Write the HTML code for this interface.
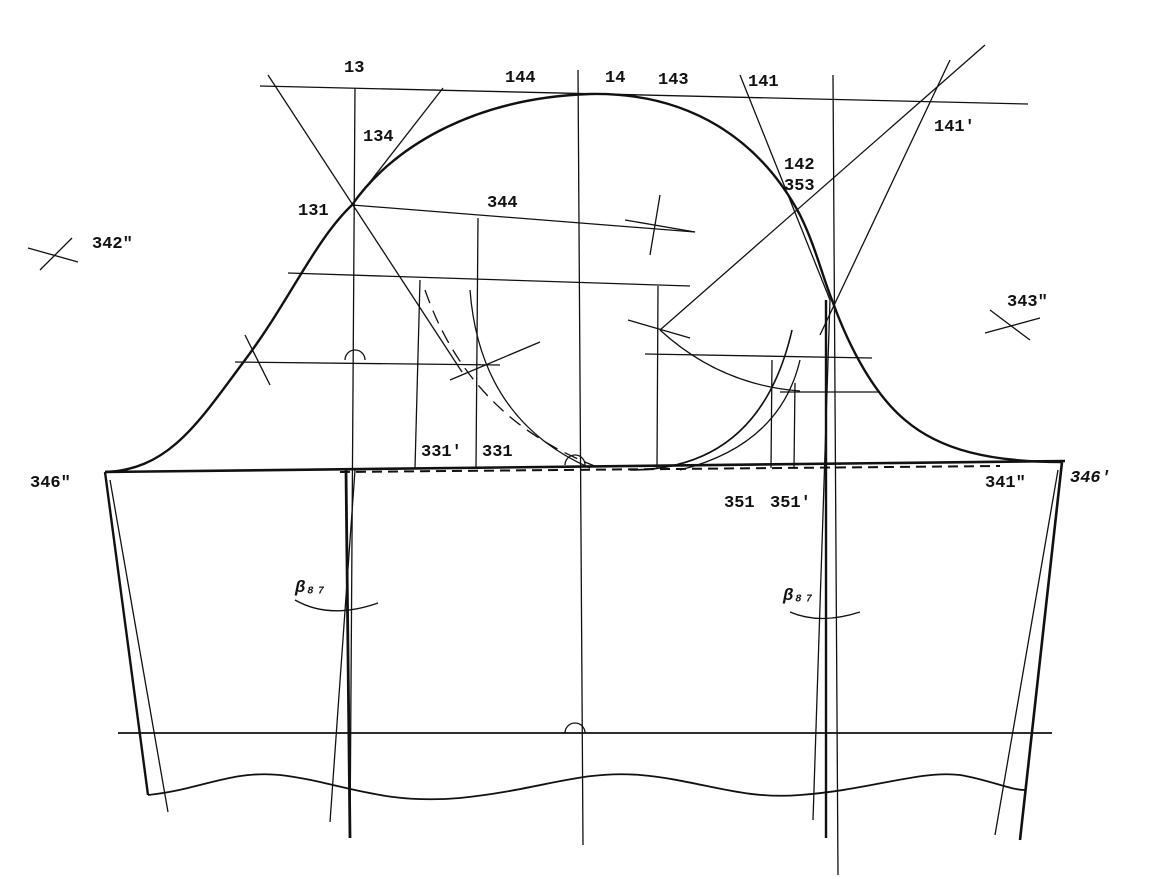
<!DOCTYPE html>
<html><head><meta charset="utf-8"><style>
html,body{margin:0;padding:0;background:#fff}
svg{display:block}
text{font-family:"Liberation Mono",monospace;font-size:17px;fill:#111;font-weight:bold}
</style></head><body>
<svg width="1152" height="879" viewBox="0 0 1152 879" xmlns="http://www.w3.org/2000/svg">
<g stroke="#111" fill="none" stroke-width="1.3">
<line x1="260" y1="86" x2="1028" y2="104"/>
<line x1="355" y1="88" x2="350" y2="838" />
<line x1="578" y1="70" x2="583" y2="845"/>
<line x1="833" y1="75" x2="838" y2="875"/>
<line x1="830" y1="300" x2="813" y2="820"/>
<line x1="355" y1="470" x2="330" y2="822"/>
<line x1="118" y1="733" x2="1052" y2="733" stroke-width="1.8"/>
<line x1="268" y1="75" x2="462" y2="372"/>
<line x1="443" y1="88" x2="352" y2="205"/>
<line x1="352" y1="205" x2="695" y2="232"/>
<line x1="288" y1="273" x2="690" y2="286"/>
<line x1="235" y1="362" x2="500" y2="365"/>
<line x1="420" y1="280" x2="415" y2="468"/>
<line x1="478" y1="218" x2="476" y2="468"/>
<line x1="658" y1="286" x2="657" y2="468"/>
<line x1="450" y1="380" x2="540" y2="342"/>
<line x1="625" y1="220" x2="695" y2="232"/>
<line x1="660" y1="195" x2="650" y2="255"/>
<line x1="740" y1="75" x2="830" y2="300"/>
<line x1="985" y1="45" x2="660" y2="330"/>
<line x1="950" y1="60" x2="820" y2="335"/>
<line x1="628" y1="320" x2="690" y2="338"/>
<line x1="645" y1="354" x2="872" y2="358"/>
<line x1="780" y1="392" x2="880" y2="392"/>
<line x1="772" y1="360" x2="771" y2="468"/>
<line x1="795" y1="383" x2="794" y2="468"/>
<path d="M660 330 Q720 385 800 391"/>
<path d="M630 470 Q760 470 792 330" stroke-width="1.6"/>
<path d="M680 470 Q780 445 800 360"/>
<path d="M470 290 Q480 420 590 468"/>
<path d="M425 290 Q470 420 600 468" stroke-dasharray="14 8"/>
<line x1="40" y1="270" x2="72" y2="238"/><line x1="28" y1="248" x2="78" y2="262"/>
<line x1="990" y1="310" x2="1030" y2="340"/><line x1="985" y1="333" x2="1040" y2="318"/>
<line x1="245" y1="335" x2="270" y2="385"/>
<line x1="105" y1="472" x2="1065" y2="461" stroke-width="2.6"/>
<line x1="340" y1="472" x2="1000" y2="466" stroke-dasharray="10 6" stroke-width="2"/>
<path d="M105 472 C170 470 200 420 245 360 C290 300 315 240 352 205 C390 150 470 98 590 94 C690 92 760 140 800 215 C815 245 822 275 832 300 C850 350 875 395 905 420 C940 450 990 462 1062 462" stroke-width="2.4"/>
<line x1="105" y1="472" x2="148" y2="795" stroke-width="2.4"/>
<line x1="110" y1="480" x2="168" y2="812"/>
<line x1="1062" y1="462" x2="1020" y2="840" stroke-width="2.6"/>
<line x1="1058" y1="470" x2="995" y2="835"/>
<line x1="346" y1="470" x2="350" y2="838" stroke-width="2.8"/>
<line x1="826" y1="300" x2="826" y2="838" stroke-width="2.4"/>
<path d="M148 795 C200 790 230 770 280 775 C340 782 380 805 460 798 C540 790 580 770 640 775 C700 780 740 800 800 795 C870 790 920 770 960 775 C990 780 1010 790 1025 790" stroke-width="1.8"/>
<path d="M295 600 Q330 620 378 603"/>
<path d="M790 612 Q820 625 860 612"/>
<path d="M565 733 A10 10 0 0 1 585 733"/>
<path d="M565 465 A10 10 0 0 1 585 465"/>
<path d="M345 360 A10 10 0 0 1 365 360"/>
</g>
<text x="344" y="72">13</text>
<text x="505" y="82">144</text>
<text x="605" y="82">14</text>
<text x="658" y="84">143</text>
<text x="748" y="86">141</text>
<text x="363" y="141">134</text>
<text x="934" y="131">141′</text>
<text x="784" y="169">142</text>
<text x="784" y="190">353</text>
<text x="298" y="215">131</text>
<text x="487" y="207">344</text>
<text x="92" y="248">342″</text>
<text x="1007" y="306">343″</text>
<text x="421" y="456">331′</text>
<text x="482" y="456">331</text>
<text x="30" y="487">346″</text>
<text x="724" y="507">351</text>
<text x="770" y="507">351′</text>
<text x="985" y="487">341″</text>
<text x="1070" y="482" font-style="italic">346′</text>
<text x="295" y="592" font-style="italic">β₈₇</text>
<text x="783" y="600" font-style="italic">β₈₇</text>
</svg>
</body></html>
